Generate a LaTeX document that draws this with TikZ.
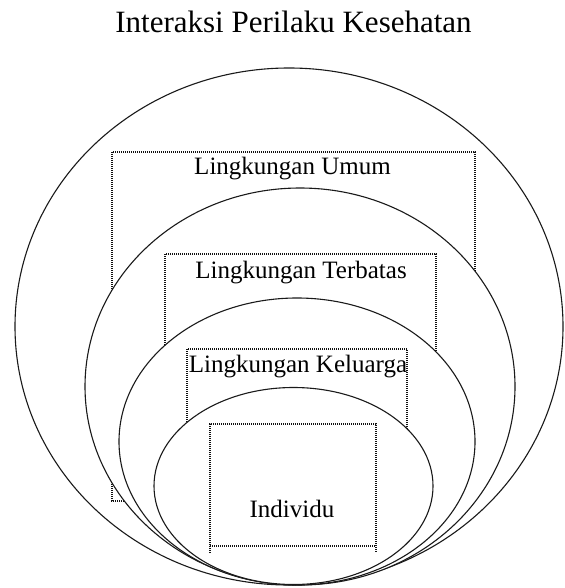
\documentclass[tikz,border=0pt]{standalone}
\usepackage{fontspec}
\setmainfont{Liberation Serif}
\usepackage{xcolor}
\definecolor{inkc}{HTML}{1A1A1A}
\definecolor{dotc}{HTML}{111111}
\tikzset{
  ring/.style={draw=inkc,line width=1.1pt,fill=white},
  zone/.style={draw=dotc,line width=1.1pt,dash pattern=on 1pt off 1pt},
  lbl/.style={font=\fontsize{25}{28}\selectfont,anchor=base,inner sep=0pt}
}
\begin{document}
\begin{tikzpicture}[x=1pt,y=-1pt]
\useasboundingbox (0,0) rectangle (564,588);
\node[anchor=base,inner sep=0pt,font=\fontsize{31}{34}\selectfont] (title) at (293.5,33) {Interaksi Perilaku Kesehatan};
% umum
\draw[ring] (289,326.5) ellipse (274 and 258.5);
\draw[zone] (112,152) rectangle (475,501);
\node[lbl] (umum) at (292.5,175) {Lingkungan Umum};
% terbatas
\draw[ring] (300,386.5) ellipse (215 and 198.5);
\draw[zone] (165,254) rectangle (436,470);
\node[lbl] (terbatas) at (301,278) {Lingkungan Terbatas};
% keluarga
\draw[ring] (297,441.5) ellipse (178 and 143.5);
\draw[zone] (187,349) rectangle (407,500);
\node[lbl] (keluarga) at (298,372) {Lingkungan Keluarga};
% individu
\draw[ring] (293.5,486) ellipse (139.5 and 98.5);
\draw[zone] (210,553) -- (210,424) -- (376,424) -- (376,553);
\draw[zone] (210,546) -- (376,546);
\node[lbl] (individu) at (292,517) {Individu};
\end{tikzpicture}
\end{document}
